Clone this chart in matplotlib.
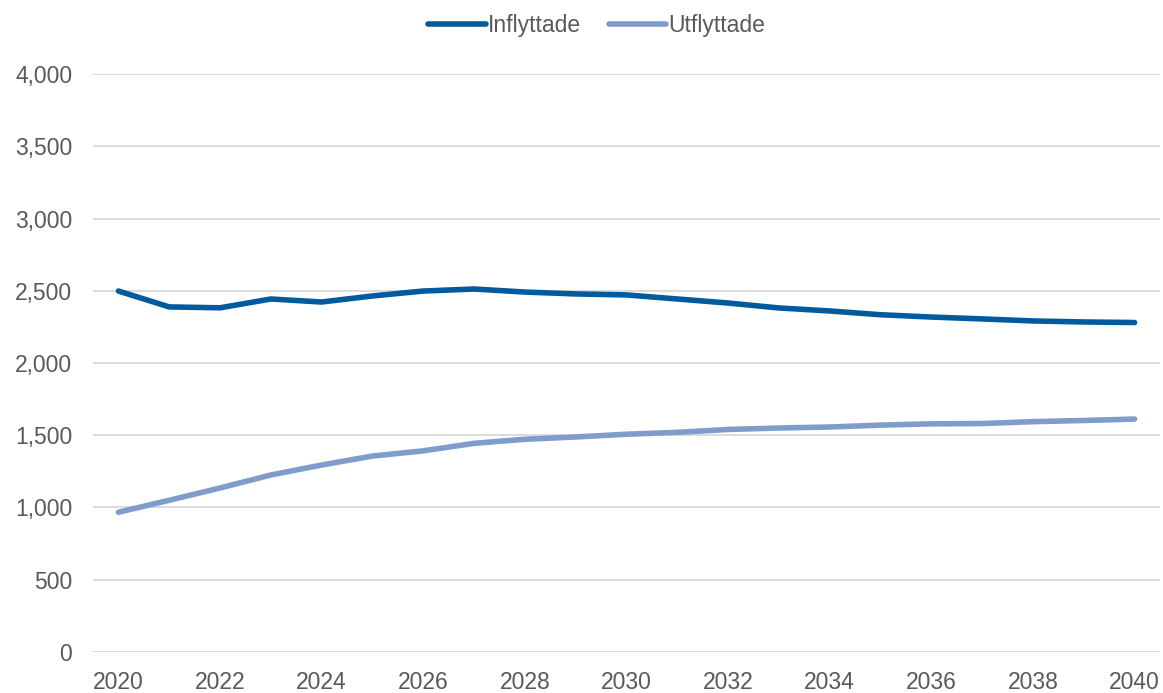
import matplotlib.pyplot as plt

# ====== Data ======
years = list(range(2020, 2041))
inflyttade = [2498, 2388, 2382, 2443, 2422, 2464, 2498, 2512, 2491, 2478, 2471,
              2443, 2415, 2381, 2360, 2334, 2318, 2305, 2291, 2284, 2280]
utflyttade = [967, 1050, 1135, 1225, 1294, 1356, 1392, 1444, 1472, 1488, 1507,
              1520, 1540, 1550, 1557, 1570, 1579, 1581, 1594, 1602, 1612]
tick_years = years[::2]

plt.rcParams['font.family'] = ['Liberation Sans', 'DejaVu Sans']
text_color = "#595959"

fig = plt.figure(figsize=(11.63, 6.93), dpi=100)
ax = fig.add_axes([0.080, 0.0592, 0.9174, 0.834])

x = list(range(len(years)))
ax.plot(x, inflyttade, color="#005A9E", lw=4, solid_capstyle="round", label="Inflyttade")
ax.plot(x, utflyttade, color="#7F9CCB", lw=4, solid_capstyle="round", label="Utflyttade")

ax.set_xlim(-0.5, len(years) - 0.5)
ax.set_ylim(0, 4000)
ax.set_yticks(range(0, 4001, 500))
ax.set_yticklabels([f"{v:,}" for v in range(0, 4001, 500)])
ax.set_xticks([years.index(y) for y in tick_years])
ax.set_xticklabels([str(y) for y in tick_years])

ax.grid(axis="y", color="#D9D9D9", lw=1.3)
ax.set_axisbelow(True)
for s in ax.spines.values():
    s.set_visible(False)
ax.tick_params(axis="both", length=0, labelsize=16.5, colors=text_color)
ax.tick_params(axis="y", pad=15)
ax.tick_params(axis="x", pad=14)

leg = ax.legend(loc="upper center", bbox_to_anchor=(0.472, 1.14), ncol=2, frameon=False,
                fontsize=16.5, handlelength=2.5, handletextpad=0.1, columnspacing=1.2)
for t in leg.get_texts():
    t.set_color(text_color)

fig.savefig("out.png", dpi=100)
